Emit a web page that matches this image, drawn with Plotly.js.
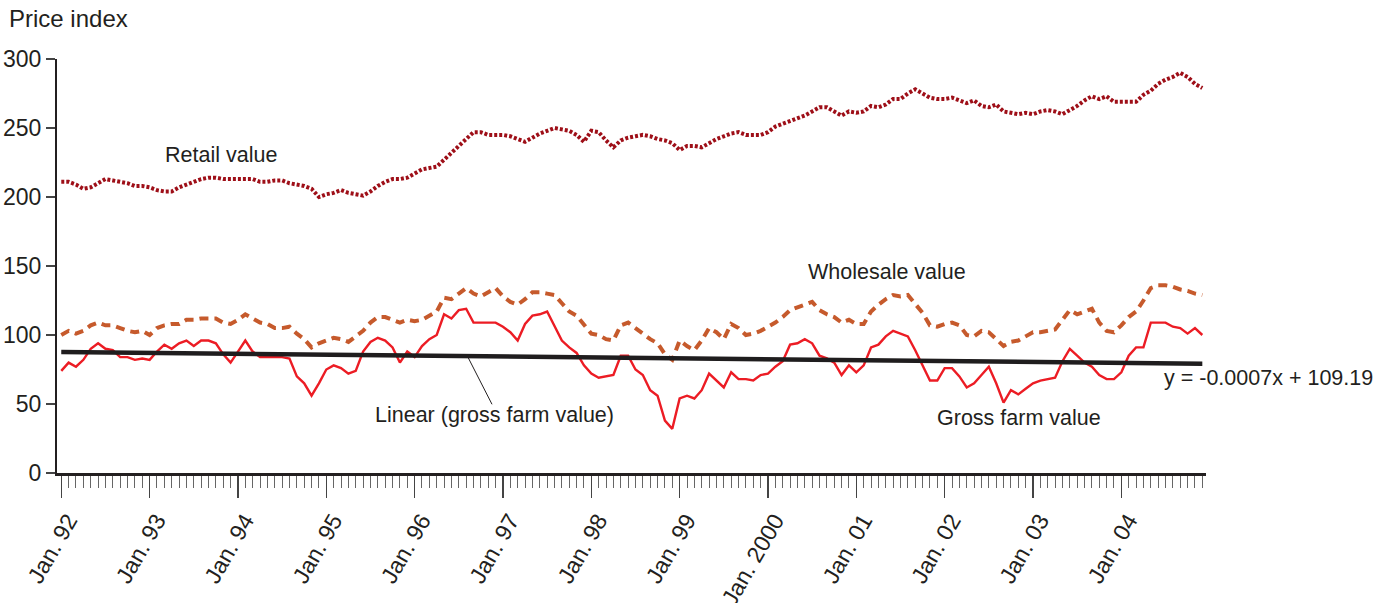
<!DOCTYPE html>
<html>
<head>
<meta charset="utf-8">
<script src="https://cdn.plot.ly/plotly-3.0.1.min.js"></script>
<style>
  html, body { margin: 0; padding: 0; background: #ffffff; }
  #chart { width: 1385px; height: 603px; }
</style>
</head>
<body>
<div id="chart"></div>
<script>
// ---- Data (monthly, Jan. 1992 – Dec. 2004) ----
const retailValue = [
  211,211,209,206,207,210,213,212,211,210,208,208,
  207,205,204,204,207,209,211,213,214,214,213,213,
  213,213,213,211,211,212,212,210,209,208,206,200,
  202,203,205,203,202,201,204,208,211,213,213,214,
  217,220,221,222,227,232,237,242,247,247,245,245,
  245,244,242,240,243,246,248,250,249,248,245,240,
  248,247,241,236,241,243,244,245,244,242,241,239,
  234,237,237,236,239,242,244,246,247,245,245,245,
  247,251,253,255,257,259,262,265,265,262,259,262,
  261,262,266,265,267,271,271,275,278,275,272,271,
  271,272,270,268,270,266,265,267,262,261,260,261,
  260,262,263,262,260,263,266,270,273,271,273,269,
  269,269,269,274,277,282,285,287,290,287,282,279
];
const wholesaleValue = [
  100,103,101,103,107,109,107,107,105,103,102,103,
  100,105,107,108,108,111,111,112,112,112,109,108,
  111,115,112,109,108,105,105,106,101,97,91,94,
  96,98,97,95,99,103,109,113,113,111,109,111,
  110,111,114,117,127,126,130,134,130,128,131,134,
  128,124,122,126,131,131,130,129,123,117,114,108,
  101,100,97,96,107,109,105,101,97,94,86,82,
  96,92,89,96,105,102,97,108,105,100,101,103,
  106,109,113,118,120,122,124,118,115,113,109,111,
  108,108,117,122,126,129,128,129,123,116,107,106,
  108,109,107,100,99,103,102,97,92,95,96,99,
  102,102,103,104,111,118,115,117,119,109,103,102,
  107,113,117,125,134,136,136,135,133,132,130,129
];
const grossFarmValue = [
  74,80,77,82,90,94,90,89,84,84,82,83,
  82,88,93,90,94,96,92,96,96,94,86,80,
  88,96,88,84,84,84,84,83,70,65,56,65,
  75,78,76,72,74,88,95,98,96,91,80,88,
  84,92,97,100,115,112,118,119,109,109,109,109,
  106,102,96,108,114,115,117,107,96,91,87,78,
  72,69,70,71,85,85,75,71,60,56,38,32,
  54,56,54,60,72,67,62,73,68,68,67,71,
  72,77,81,93,94,97,94,85,83,80,71,78,
  73,78,91,93,99,103,101,99,89,78,67,67,
  76,76,70,62,65,71,77,65,51,60,57,61,
  65,67,68,69,81,90,85,80,77,71,68,68,
  73,85,91,91,109,109,109,106,105,101,105,100
];
// Linear trend of gross farm value (y = -0.0007x + 109.19), first and last month
const trendMonths = [0, 155];
const trendValues = [87.7, 79.2];

const tickMonths = [0,12,24,36,48,60,72,84,96,108,120,132,144];
const tickLabels = ["Jan. 92","Jan. 93","Jan. 94","Jan. 95","Jan. 96","Jan. 97","Jan. 98",
                    "Jan. 99","Jan. 2000","Jan. 01","Jan. 02","Jan. 03","Jan. 04"];

// month index 0..155
const months = [];
for (let i = 0; i < retailValue.length; i++) months.push(i);

// ---- Layout helpers (pixel -> paper) ----
const W = 1385, H = 603;
const mL = 57, mR = 179, mT = 58.7, mB = 130.3;
const pw = W - mL - mR, ph = H - mT - mB;
const px = x => (x - mL) / pw;
const py = y => (H - mB - y) / ph;

const FONT = '"Liberation Sans", Arial, Helvetica, sans-serif';
const TXT = '#231f20';

const traces = [
  { x: months, y: retailValue, type: 'scatter', mode: 'lines', name: 'Retail value',
    line: { color: '#9e0f18', width: 4, dash: '3px,2px' }, hoverinfo: 'skip' },
  { x: months, y: wholesaleValue, type: 'scatter', mode: 'lines', name: 'Wholesale value',
    line: { color: '#c65a2c', width: 4, dash: '9px,6px' }, hoverinfo: 'skip' },
  { x: months, y: grossFarmValue, type: 'scatter', mode: 'lines', name: 'Gross farm value',
    line: { color: '#ec1c24', width: 2.4 }, hoverinfo: 'skip' },
  { x: trendMonths, y: trendValues, type: 'scatter', mode: 'lines', name: 'Linear (gross farm value)',
    line: { color: '#1f1d1e', width: 4.5 }, hoverinfo: 'skip' }
];

const ann = (text, x, y, xanchor, size) => ({
  text, xref: 'paper', yref: 'paper', x: px(x), y: py(y),
  xanchor: xanchor || 'center', yanchor: 'middle', showarrow: false,
  font: { family: FONT, size: size || 21.5, color: TXT }
});

const layout = {
  width: W, height: H,
  margin: { l: mL, r: mR, t: mT, b: mB, pad: 0 },
  paper_bgcolor: '#ffffff', plot_bgcolor: '#ffffff',
  showlegend: false,
  xaxis: {
    range: [-0.58, 155.5],
    showgrid: false, zeroline: false,
    showline: true, linecolor: TXT, linewidth: 3,
    tickmode: 'array', tickvals: tickMonths, ticktext: tickLabels,
    ticks: 'outside', ticklen: 22, tickwidth: 1.5, tickcolor: '#444',
    tickangle: -60, ticklabelshift: 7,
    tickfont: { family: FONT, size: 23, color: TXT },
    minor: { tick0: 0, dtick: 1, ticks: 'outside', ticklen: 12, tickwidth: 1, tickcolor: '#666', showgrid: false }
  },
  yaxis: {
    range: [0, 300],
    showgrid: false, zeroline: false,
    showline: true, linecolor: TXT, linewidth: 2,
    tickmode: 'array', tickvals: [0,50,100,150,200,250,300],
    ticks: 'outside', ticklen: 9, tickwidth: 1.5, tickcolor: '#444',
    tickfont: { family: FONT, size: 23, color: TXT }
  },
  annotations: [
    ann('Price index', 7, 18, 'left', 24),
    ann('Retail value', 221, 155),
    ann('Wholesale value', 887, 272),
    ann('Linear (gross farm value)', 494, 415),
    ann('Gross farm value', 1019, 418),
    ann('y = -0.0007x + 109.19', 1162, 378, 'left')
  ],
  shapes: [
    { type: 'line', xref: 'paper', yref: 'paper',
      x0: px(468), y0: py(357), x1: px(492), y1: py(404),
      line: { color: TXT, width: 1 } }
  ]
};

Plotly.newPlot('chart', traces, layout, { staticPlot: true, displayModeBar: false });
</script>
</body>
</html>
